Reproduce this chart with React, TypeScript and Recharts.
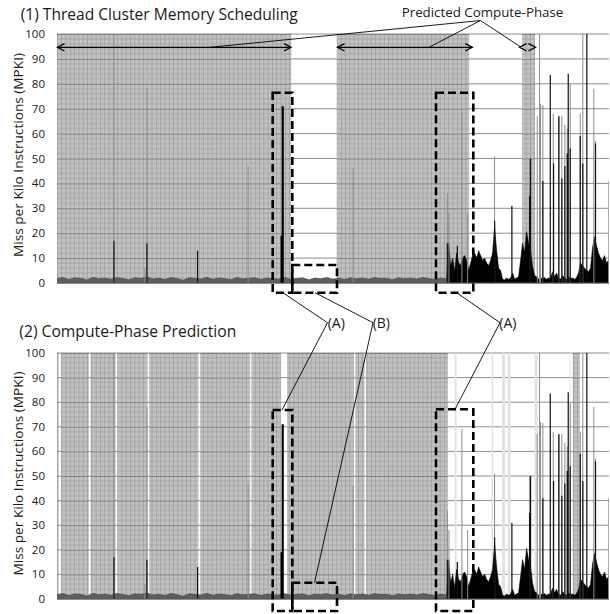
import React from "react";
import {
  ComposedChart,
  XAxis,
  YAxis,
  CartesianGrid,
  ReferenceArea,
  Area,
  Line
} from "recharts";

const FONT = "'Open Sans', sans-serif";

const yTicks = [0, 10, 20, 30, 40, 50, 60, 70, 80, 90, 100];

// compute phases (interval index ranges)
const tcmPhases = [[0, 234.5], [280, 412.5], [465.5, 478.5]];
const predPhases = [
  [0, 1.6], [4, 31.8], [33.6, 58.6], [60.3, 90.6], [92.3, 141.6], [143.3, 193.3],
  [194.6, 224.3], [230.3, 297.3], [298.6, 307.8], [309.3, 391.3], [516.3, 523.3]
];
const predFaint = [[398, 400], [435, 436.5], [445.5, 448.5], [451, 454], [478, 481], [513, 514]];

// low-MPKI stretch, one sample every 6 intervals
const quietStart = 0;
const quietStep = 6;
const quietMpki = [
  1.8, 2.2, 1.4, 2.1, 1.9, 1.2, 2.3, 1.7, 2.0, 1.5,
  2.2, 1.8, 1.3, 2.1, 1.9, 2.4, 1.6, 2.0, 1.4, 2.2,
  1.8, 1.1, 2.1, 1.9, 1.6, 2.3, 1.5, 2.0, 1.8, 1.3,
  2.2, 1.7, 1.9, 2.1, 1.4, 2.0, 1.8, 1.6, 2.2, 1.5,
  1.9, 2.1, 1.3, 2.0, 1.8, 2.2, 1.6, 1.9, 1.4, 2.1,
  1.7, 2.0, 1.5, 2.2, 1.8, 1.9, 1.3, 2.1, 1.7, 2.0,
  1.6, 2.2, 1.8, 1.4, 2.0, 1.6
];

// memory-intensive stretch, one sample every 2 intervals
const busyStart = 390;
const busyStep = 2;
const busyMpki = [
  1.5, 16, 6.5, 10, 4.5, 12, 8, 7, 10, 11,
  9, 5, 8, 11, 12, 10, 13, 11, 9, 10,
  8, 7, 9, 12, 22.6, 13, 6, 5, 1.5, 1.2,
  2, 1.5, 2, 4, 1.5, 2, 2.5, 9, 16, 12,
  20.6, 16, 13, 6.5, 3, 2.5, 1.5, 2, 1.8, 2.2,
  1.5, 2, 1.8, 4.5, 2.5, 4, 2, 1.5, 3, 2,
  1.5, 2.5, 1.8, 2, 1.5, 2.2, 4, 8, 7, 6,
  5, 4.5, 6, 14, 18.6, 15, 12, 10, 9, 11,
  8, 9
];

// isolated spikes
const lightSpikeX = [57, 88, 90, 191.3, 296.3, 390.7, 392.3, 405.3, 411, 438, 473, 480.7, 483, 484, 486.3, 496.7, 502.3, 505.3, 508.3, 510.7, 513.7, 523.7, 526.3, 537.3, 539, 552.3];
const lightSpikeMpki = [100, 6, 78, 47, 46, 36, 28, 69, 28, 51, 50, 67, 100, 72, 71.5, 68, 67, 67, 63.5, 62, 80, 68, 100, 78, 57, 41];
const darkSpikeX = [57, 90, 140.7, 390.7, 400.7, 438, 455.3, 473, 474, 486.3, 493.7, 497, 502.3, 505.3, 508.3, 510.7, 511.7, 513.7, 523.7, 526.3, 530.3, 539];
const darkSpikeMpki = [17, 16, 13, 16, 15, 25, 31, 35, 50, 41, 83.5, 48, 67, 42, 47, 52, 84, 54, 59, 48, 100, 56];
// the heavy burst just before the first phase ends
const heavySpikeX = [224.8, 225.9];
const heavySpikeMpki = [19, 71];

const quietData = quietMpki.map((v, i) => ({ x: quietStart + i * quietStep, v }));
const busyData = busyMpki.map((v, i) => ({ x: busyStart + i * busyStep, v }));
const spikeRows = (xs: number[], vs: number[]) =>
  xs.flatMap((x, i) => [{ x, v: 0 }, { x, v: vs[i] }, { x, v: null as number | null }]);
const lightSpikes = spikeRows(lightSpikeX, lightSpikeMpki);
const darkSpikes = spikeRows(darkSpikeX, darkSpikeMpki);
const heavySpikes = spikeRows(heavySpikeX, heavySpikeMpki);

function Panel({ id, height, top, bottom, phases, faint }: any) {
  const plotH = height - top - bottom - 1;
  const major = plotH / 10;
  const cellW = 4.3;
  return (
    <ComposedChart width={610} height={height} margin={{ top, right: 1, bottom, left: 12 }}>
      <defs>
        <pattern id={id} patternUnits="userSpaceOnUse" x={57} y={top} width={cellW} height={major}>
          <rect width={cellW} height={major} fill="#c2c2c2" />
          <rect x={0} y={0} width={0.8} height={major} fill="#a0a0a0" />
          {[1, 2, 3, 4].map((k) => (
            <rect key={k} x={0} y={(k * major) / 5 - 0.4} width={cellW} height={0.8} fill="#a0a0a0" />
          ))}
          <rect x={0} y={0} width={cellW} height={1} fill="#828282" />
        </pattern>
      </defs>
      <CartesianGrid vertical={false} stroke="#8e8e8e" />
      <XAxis
        type="number"
        dataKey="x"
        domain={[0, 552.5]}
        allowDataOverflow
        tick={false}
        tickLine={false}
        axisLine={{ stroke: "#555" }}
        height={1}
      />
      <YAxis
        type="number"
        domain={[0, 100]}
        ticks={yTicks}
        interval={0}
        tickLine={false}
        axisLine={false}
        width={45}
        tickMargin={6}
        tick={{ fill: "#1a1a1a", fontSize: 11.5, fontFamily: FONT }}
      />
      {faint.map(([a, b]: number[], i: number) => (
        <ReferenceArea key={"f" + i} x1={a} x2={b} y1={0} y2={100} fill="#e2e2e2" fillOpacity={1} strokeOpacity={0} />
      ))}
      {phases.map(([a, b]: number[], i: number) => (
        <ReferenceArea key={"p" + i} x1={a} x2={b} y1={0} y2={100} fill={`url(#${id})`} fillOpacity={1} strokeOpacity={0} />
      ))}
      <Area data={quietData} dataKey="v" type="linear" stroke="#444" strokeWidth={0.6} fill="#5e5e5e" fillOpacity={1} dot={false} activeDot={false} isAnimationActive={false} />
      <Area data={busyData} dataKey="v" type="linear" stroke="#000" strokeWidth={0.6} fill="#000" fillOpacity={1} dot={false} activeDot={false} isAnimationActive={false} />
      <Line data={lightSpikes} dataKey="v" type="linear" stroke="#8c8c8c" strokeWidth={1} dot={false} activeDot={false} connectNulls={false} isAnimationActive={false} />
      <Line data={darkSpikes} dataKey="v" type="linear" stroke="#111" strokeWidth={1.2} dot={false} activeDot={false} connectNulls={false} isAnimationActive={false} />
      <Line data={heavySpikes} dataKey="v" type="linear" stroke="#000" strokeWidth={2.2} dot={false} activeDot={false} connectNulls={false} isAnimationActive={false} />
    </ComposedChart>
  );
}

const head = (x: number, y: number, dir: number) =>
  `M${x + dir * 7},${y - 3.7} L${x},${y} L${x + dir * 7},${y + 3.7}`;

function Annotations() {
  const dash = { fill: "none", stroke: "#000", strokeWidth: 2.6, strokeDasharray: "8 4" };
  const thin = { stroke: "#000", strokeWidth: 0.9 };
  const arrow = { fill: "none", stroke: "#000", strokeWidth: 1.3 };
  const ay = 47.3;
  return (
    <svg width={610} height={614} style={{ position: "absolute", left: 0, top: 0, pointerEvents: "none" }} fontFamily={FONT} fill="#1a1a1a">
      <text x={20.7} y={20} fontSize={16} textLength={277} lengthAdjust="spacingAndGlyphs">(1) Thread Cluster Memory Scheduling</text>
      <text x={19.3} y={336.7} fontSize={16} textLength={217} lengthAdjust="spacingAndGlyphs">(2) Compute-Phase Prediction</text>
      <text x={23} y={155} transform="rotate(-90 23 155)" textAnchor="middle" fontSize={12.5} textLength={204} lengthAdjust="spacingAndGlyphs">Miss per Kilo Instructions (MPKI)</text>
      <text x={23} y={473.5} transform="rotate(-90 23 473.5)" textAnchor="middle" fontSize={12.5} textLength={204} lengthAdjust="spacingAndGlyphs">Miss per Kilo Instructions (MPKI)</text>
      <text x={401.7} y={16.5} fontSize={12.5} textLength={161.6} lengthAdjust="spacingAndGlyphs">Predicted Compute-Phase</text>
      <text x={327.7} y={328} fontSize={14}>(A)</text>
      <text x={372.7} y={328} fontSize={14}>(B)</text>
      <text x={499.3} y={328} fontSize={14}>(A)</text>

      {/* predicted compute-phase arrows */}
      <line x1={57} y1={ay} x2={291} y2={ay} {...arrow} />
      <path d={head(57.5, ay, 1)} {...arrow} />
      <path d={head(291, ay, -1)} {...arrow} />
      <line x1={337} y1={ay} x2={472.3} y2={ay} {...arrow} />
      <path d={head(337.5, ay, 1)} {...arrow} />
      <path d={head(472.3, ay, -1)} {...arrow} />
      <path d={head(519.5, ay, 1)} {...arrow} />
      <path d={head(535.5, ay, -1)} {...arrow} />
      <line x1={480.5} y1={20.5} x2={210} y2={ay} {...thin} />
      <line x1={480.5} y1={20.5} x2={429} y2={ay} {...thin} />
      <line x1={480.5} y1={20.5} x2={520} y2={46.5} {...thin} />

      {/* dashed boxes, top */}
      <rect x={272.7} y={92.7} width={19.6} height={200} {...dash} />
      <rect x={292.3} y={265} width={44.7} height={27.7} {...dash} />
      <rect x={436} y={92.7} width={37.3} height={200} {...dash} />
      {/* dashed boxes, bottom */}
      <rect x={272.7} y={410} width={19.6} height={201} {...dash} />
      <rect x={292.3} y={582.7} width={44.7} height={28.3} {...dash} />
      <rect x={436} y={409.3} width={37.3} height={201.7} {...dash} />

      {/* leaders to (A) (B) (A) */}
      <line x1={327.5} y1={322.7} x2={283.3} y2={293} {...thin} />
      <line x1={327.5} y1={322.7} x2={282} y2={410} {...thin} />
      <line x1={373} y1={322.7} x2={315} y2={292.7} {...thin} />
      <line x1={373} y1={322.7} x2={314.5} y2={582.7} {...thin} />
      <line x1={500} y1={322.7} x2={456.7} y2={292.7} {...thin} />
      <line x1={500} y1={322.7} x2={455} y2={409.3} {...thin} />
    </svg>
  );
}

export default function App() {
  return (
    <div style={{ position: "absolute", left: 0, top: 0, width: 610, height: 614, overflow: "hidden", background: "#fff" }}>
      <div style={{ position: "absolute", left: 0, top: 0 }}>
        <Panel id="tcmGrid" height={300} top={34} bottom={16} phases={tcmPhases} faint={[]} />
      </div>
      <div style={{ position: "absolute", left: 0, top: 318 }}>
        <Panel id="predGrid" height={296} top={35} bottom={14} phases={predPhases} faint={predFaint} />
      </div>
      <Annotations />
    </div>
  );
}
